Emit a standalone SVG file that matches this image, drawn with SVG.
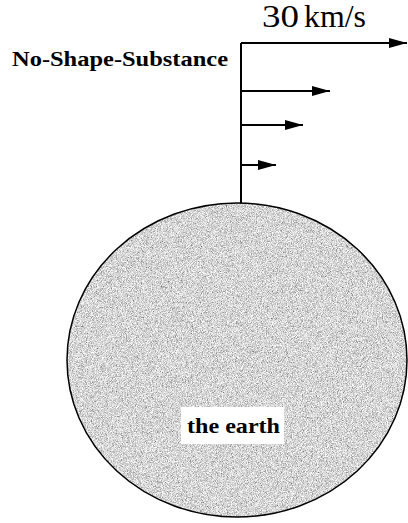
<svg xmlns="http://www.w3.org/2000/svg" width="408" height="523" viewBox="0 0 408 523">
<style>
.ln{stroke:#000;stroke-width:2;fill:none}
.lbl{font-family:'Liberation Serif','DejaVu Serif',serif;fill:#000}
</style>
<defs>
<marker id="ah" viewBox="0 0 18 10" refX="18" refY="5" markerWidth="18" markerHeight="10" markerUnits="userSpaceOnUse" orient="auto">
<path d="M0,0 L18,5 L0,10 Z" fill="#000"/>
</marker>
<filter id="noise" x="0" y="0" width="100%" height="100%">
<feTurbulence type="fractalNoise" baseFrequency="1.2" numOctaves="2" seed="3" result="t"/>
<feColorMatrix in="t" type="matrix" values="1.4 0 0 0 -0.03  1.4 0 0 0 -0.03  1.4 0 0 0 -0.03  0 0 0 0 1" result="n"/>
<feComposite in="n" in2="SourceGraphic" operator="in"/>
</filter>
</defs>
<g id="earth">
<ellipse cx="237" cy="360" rx="170" ry="157" fill="#aaa" filter="url(#noise)"/>
<ellipse cx="237" cy="360" rx="170" ry="157" fill="none" stroke="#000" stroke-width="1.5"/>
<rect x="181" y="407" width="103" height="37" fill="#fff"/>
<text class="lbl" x="187" y="433" font-size="21" font-weight="bold" textLength="93" lengthAdjust="spacingAndGlyphs">the earth</text>
</g>
<g id="substance">
<text class="lbl" x="12" y="66" font-size="22" font-weight="bold" textLength="216" lengthAdjust="spacingAndGlyphs">No-Shape-Substance</text>
</g>
<g id="speed">
<text class="lbl" x="262" y="27" font-size="31"><tspan textLength="37" lengthAdjust="spacingAndGlyphs">30</tspan><tspan x="304" textLength="62" lengthAdjust="spacingAndGlyphs">km/s</tspan></text>
</g>
<g id="connectors">
<line class="ln" x1="241" y1="43" x2="241" y2="203"/>
<line class="ln" x1="241" y1="43" x2="407" y2="43" marker-end="url(#ah)"/>
<line class="ln" x1="241" y1="91" x2="330" y2="91" marker-end="url(#ah)"/>
<line class="ln" x1="241" y1="125" x2="303" y2="125" marker-end="url(#ah)"/>
<line class="ln" x1="241" y1="165" x2="276" y2="165" marker-end="url(#ah)"/>
</g>
</svg>
